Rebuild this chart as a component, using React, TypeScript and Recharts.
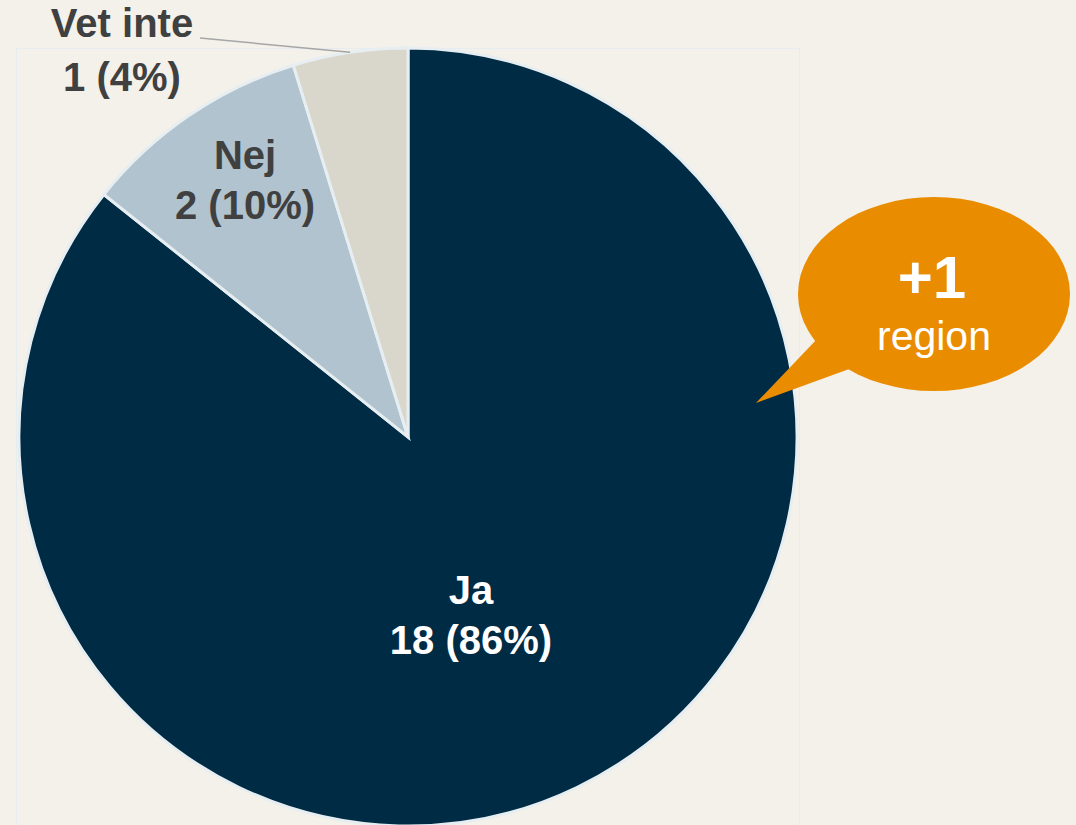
import { PieChart, Pie, Cell } from "recharts";

const categories = ["Ja", "Nej", "Vet inte"];
const counts = [18, 2, 1];
const percentLabels = ["86%", "10%", "4%"];
const sliceColors = ["#002B45", "#B1C3CE", "#D9D7CB"];

const calloutTitle = "+1";
const calloutText = "region";

const data = categories.map((name, i) => ({ name, value: counts[i], pct: percentLabels[i] }));

const BG = "#F4F1EA";
const FONT = "'Liberation Sans', Arial, sans-serif";
const RAD = Math.PI / 180;
const LABEL_SIZE = 40;

function Pair({ x, y, a, b, fill, gap }: { x: number; y: number; a: string; b: string; fill: string; gap: number }) {
  const common = { textAnchor: "middle" as const, dominantBaseline: "central" as const, fill, fontWeight: "bold", fontSize: LABEL_SIZE, fontFamily: FONT };
  return (
    <g>
      <text x={x} y={y - gap} {...common}>{a}</text>
      <text x={x} y={y + gap} {...common}>{b}</text>
    </g>
  );
}

function renderLabel(props: any) {
  const { cx, cy, midAngle, outerRadius, index, name, value, payload } = props;
  const text2 = `${value} (${payload.pct})`;
  if (index === 0) {
    // inside, lower part of the big slice
    return <Pair x={cx + 63} y={cy + 178} a={name} b={text2} fill="#FFFFFF" gap={25} />;
  }
  if (index === 1) {
    return <Pair x={cx - 163} y={cy - 257} a={name} b={text2} fill="#404040" gap={25} />;
  }
  // outside label with leader line
  const ex = cx + outerRadius * Math.cos(-midAngle * RAD);
  const ey = cy + outerRadius * Math.sin(-midAngle * RAD);
  return (
    <g>
      <polyline points={`${ex},${ey} 200,38`} fill="none" stroke="#A6A6A6" strokeWidth={1.5} />
      <Pair x={122} y={50} a={name} b={text2} fill="#404040" gap={27} />
    </g>
  );
}

export default function App() {
  return (
    <div style={{ position: "fixed", left: 0, top: 0, width: 1076, height: 825, background: BG, overflow: "hidden", fontFamily: FONT }}>
      <div style={{ position: "absolute", left: 16, top: 48, width: 782, height: 800, border: "1.5px solid #E6EDF0", borderBottom: "none" }} />
      <PieChart width={1076} height={825} margin={{ top: 0, right: 0, bottom: 0, left: 0 }} style={{ position: "absolute", left: 0, top: 0 }}>
        <Pie
          data={data}
          dataKey="value"
          nameKey="name"
          cx={408}
          cy={437}
          outerRadius={389}
          startAngle={90}
          endAngle={-270}
          stroke="#E6EEF2"
          strokeWidth={3}
          label={renderLabel}
          labelLine={false}
          isAnimationActive={false}
        >
          {data.map((d, i) => (
            <Cell key={d.name} fill={sliceColors[i]} />
          ))}
        </Pie>
      </PieChart>
      <svg width={1076} height={825} style={{ position: "absolute", left: 0, top: 0, pointerEvents: "none" }}>
        <ellipse cx={934} cy={294} rx={136} ry={97} fill="#EA8C00" />
        <polygon points="818,338 756,403 852,368" fill="#EA8C00" />
        <text x={932} y={277} textAnchor="middle" dominantBaseline="central" fill="#FFFFFF" fontWeight="bold" fontSize={60} fontFamily={FONT}>
          {calloutTitle}
        </text>
        <text x={934} y={336} textAnchor="middle" dominantBaseline="central" fill="#FFFFFF" fontSize={41} fontFamily={FONT}>
          {calloutText}
        </text>
      </svg>
    </div>
  );
}
